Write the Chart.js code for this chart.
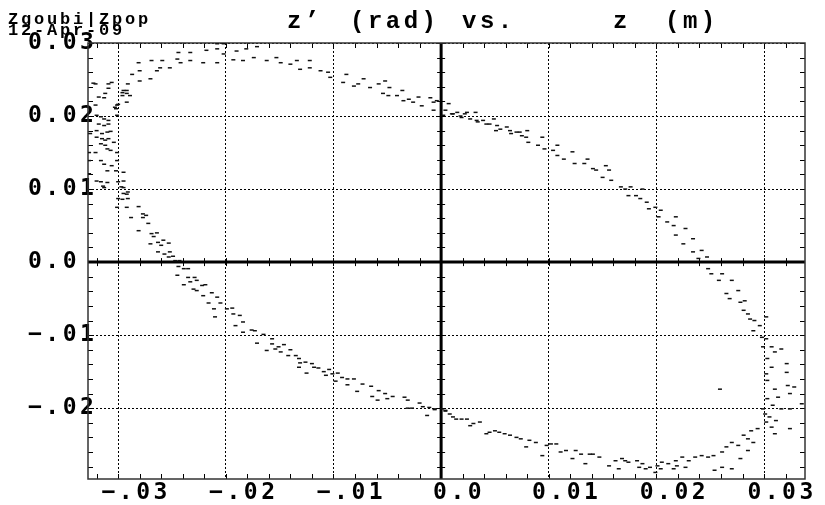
<!DOCTYPE html>
<html>
<head>
<meta charset="utf-8">
<script src="https://cdn.jsdelivr.net/npm/chart.js@4.4.1/dist/chart.umd.min.js"></script>
<style>
  html, body { margin: 0; padding: 0; background: #fff; }
</style>
</head>
<body>
<canvas id="zpop" width="825" height="505"></canvas>
<script>
// z (m) and z' (rad), arc by arc
var upperZ = [-0.0321,-0.0306,-0.0313,-0.0303,-0.0300,-0.0296,-0.0292,-0.0291,-0.0280,-0.0270,
  -0.0287,-0.0280,-0.0264,-0.0261,-0.0252,-0.0281,-0.0269,-0.0259,-0.0245,-0.0242,
  -0.0233,-0.0221,-0.0208,-0.0244,-0.0233,-0.0218,-0.0208,-0.0202,-0.0208,-0.0202,
  -0.0190,-0.0181,-0.0171,-0.0193,-0.0184,-0.0174,-0.0162,-0.0153,-0.0149,-0.0140,
  -0.0134,-0.0131,-0.0122,-0.0112,-0.0105,-0.0103,-0.0122,-0.0088,-0.0091,-0.0081,
  -0.0072,-0.0066,-0.0077,-0.0058,-0.0052,-0.0048,-0.0054,-0.0049,-0.0041,-0.0036,
  -0.0035,-0.0030,-0.0026,-0.0021,-0.0018,-0.0010,-0.0007,-0.0004,-0.0007];
var upperZp = [0.0244,0.0246,0.0225,0.0212,0.0216,0.0232,0.0235,0.0244,0.0248,0.0251,
  0.0257,0.0262,0.0262,0.0266,0.0266,0.0273,0.0276,0.0276,0.0278,0.0273,
  0.0276,0.0273,0.0273,0.0287,0.0287,0.0290,0.0292,0.0299,0.0299,0.0285,
  0.0289,0.0292,0.0295,0.0277,0.0276,0.0280,0.0276,0.0280,0.0273,0.0271,
  0.0276,0.0264,0.0266,0.0262,0.0260,0.0253,0.0276,0.0257,0.0246,0.0241,
  0.0251,0.0239,0.0244,0.0244,0.0248,0.0239,0.0231,0.0228,0.0228,0.0235,
  0.0221,0.0223,0.0219,0.0226,0.0214,0.0225,0.0219,0.0221,0.0208];

var fallZ = [0.0007,0.0004,0.0002,0.0011,0.0015,0.0019,0.0024,0.0027,0.0032,0.0033,
  0.0039,0.0042,0.0049,0.0052,0.0055,0.0064,0.0070,0.0075,0.0080,0.0010,
  0.0018,0.0022,0.0034,0.0045,0.0051,0.0061,0.0065,0.0073,0.0079,0.0081,
  0.0090,0.0094,0.0096,0.0104,0.0108,0.0108,0.0114,0.0122,0.0124,0.0133,
  0.0136,0.0141,0.0144,0.0150,0.0153,0.0156,0.0158,0.0167,0.0171,0.0176,
  0.0174,0.0181,0.0185,0.0187,0.0191,0.0193,0.0199,0.0204,0.0202,0.0210,
  0.0216,0.0218,0.0218,0.0227,0.0225,0.0234,0.0234,0.0242,0.0239,0.0247];
var fallZp = [0.0217,0.0208,0.0201,0.0203,0.0205,0.0198,0.0205,0.0196,0.0205,0.0194,
  0.0194,0.0189,0.0196,0.0187,0.0182,0.0180,0.0178,0.0173,0.0180,0.0203,
  0.0200,0.0203,0.0192,0.0189,0.0180,0.0185,0.0176,0.0178,0.0171,0.0164,
  0.0160,0.0171,0.0155,0.0153,0.0160,0.0146,0.0141,0.0151,0.0135,0.0135,
  0.0141,0.0128,0.0126,0.0116,0.0132,0.0126,0.0112,0.0103,0.0100,0.0103,
  0.0091,0.0091,0.0087,0.0100,0.0082,0.0073,0.0075,0.0071,0.0062,0.0055,
  0.0050,0.0062,0.0037,0.0046,0.0025,0.0032,0.0014,0.0016,0.0005,0.0007];

var rightZ = [0.0248,0.0251,0.0261,0.0258,0.0265,0.0270,0.0268,0.0276,0.0278,0.0282,
  0.0281,0.0285,0.0287,0.0291,0.0296,0.0302,0.0290,0.0298,0.0302,0.0299,
  0.0307,0.0310,0.0316,0.0303,0.0307,0.0321,0.0302,0.0321,0.0303,0.0322,
  0.0328,0.0310,0.0324,0.0303,0.0313,0.0308,0.0316,0.0324,0.0335,0.0299,
  0.0301,0.0305,0.0311,0.0302,0.0324,0.0307,0.0310,0.0294,0.0288,0.0281,
  0.0285,0.0290,0.0270,0.0276,0.0265,0.0285,0.0261,0.0278,0.0253,0.0248,
  0.0270,0.0261,0.0254,0.0259];
var rightZp = [-0.0009,-0.0016,-0.0016,-0.0025,-0.0043,-0.0025,-0.0050,-0.0039,-0.0055,-0.0053,
  -0.0066,-0.0071,-0.0078,-0.0080,-0.0087,-0.0075,-0.0094,-0.0103,-0.0105,-0.0116,
  -0.0116,-0.0123,-0.0119,-0.0132,-0.0144,-0.0139,-0.0153,-0.0151,-0.0162,-0.0169,
  -0.0171,-0.0174,-0.0180,-0.0187,-0.0185,-0.0196,-0.0201,-0.0201,-0.0194,-0.0201,
  -0.0208,-0.0212,-0.0217,-0.0219,-0.0228,-0.0226,-0.0235,-0.0228,-0.0231,-0.0237,
  -0.0242,-0.0247,-0.0247,-0.0251,-0.0253,-0.0258,-0.0260,-0.0269,-0.0265,-0.0267,
  -0.0283,-0.0281,-0.0285,-0.0174];

var bottomZ = [0.0242,0.0236,0.0230,0.0227,0.0224,0.0218,0.0219,0.0216,0.0211,0.0205,
  0.0204,0.0201,0.0199,0.0194,0.0190,0.0187,0.0184,0.0182,0.0174,0.0171,
  0.0168,0.0162,0.0165,0.0156,0.0147,0.0141,0.0134,0.0138,0.0130,0.0125,
  0.0122,0.0116,0.0111,0.0107,0.0102,0.0098,0.0094,0.0088,0.0082,0.0079,
  0.0074,0.0070,0.0064,0.0059,0.0054,0.0050,0.0045,0.0042,0.0036,0.0030,
  0.0027,0.0024,0.0019,0.0014,0.0011,0.0008,0.0004,0.0001,-0.0006,0.0004];
var bottomZp = [-0.0265,-0.0267,-0.0272,-0.0281,-0.0267,-0.0272,-0.0279,-0.0283,-0.0276,-0.0274,
  -0.0283,-0.0279,-0.0288,-0.0281,-0.0283,-0.0276,-0.0281,-0.0272,-0.0274,-0.0272,
  -0.0269,-0.0272,-0.0283,-0.0279,-0.0267,-0.0263,-0.0276,-0.0263,-0.0263,-0.0258,
  -0.0269,-0.0258,-0.0260,-0.0249,-0.0249,-0.0251,-0.0265,-0.0247,-0.0244,-0.0253,
  -0.0242,-0.0240,-0.0237,-0.0235,-0.0233,-0.0231,-0.0233,-0.0235,-0.0219,-0.0221,
  -0.0224,-0.0215,-0.0215,-0.0215,-0.0212,-0.0208,-0.0203,-0.0201,-0.0201,-0.0204];

var riseZ = [-0.0006,-0.0013,-0.0011,-0.0017,-0.0020,-0.0027,-0.0031,-0.0031,-0.0034,-0.0045,
  -0.0050,-0.0052,-0.0059,-0.0058,-0.0064,-0.0065,-0.0073,-0.0078,-0.0081,-0.0087,
  -0.0087,-0.0092,-0.0096,-0.0098,-0.0101,-0.0104,-0.0107,-0.0109,-0.0114,-0.0118,
  -0.0120,-0.0125,-0.0126,-0.0132,-0.0131,-0.0132,-0.0135,-0.0140,-0.0142,-0.0149,
  -0.0146,-0.0151,-0.0154,-0.0162,-0.0157,-0.0157,-0.0165,-0.0171,-0.0173,-0.0176,
  -0.0184,-0.0184,-0.0191,-0.0187,-0.0193,-0.0194,-0.0199,-0.0210,-0.0211,-0.0205,
  -0.0216,-0.0208,-0.0213,-0.0221,-0.0227,-0.0230,-0.0219,-0.0222,-0.0227,-0.0233,
  -0.0239,-0.0229,-0.0235,-0.0245,-0.0235,-0.0239,-0.0244,-0.0243,-0.0247,-0.0253,
  -0.0249,-0.0252,-0.0257,-0.0263,-0.0253,-0.0260,-0.0258,-0.0263,-0.0270,-0.0267,
  -0.0264,-0.0269,-0.0281,-0.0272,-0.0277,-0.0274,-0.0277,-0.0281,-0.0288,-0.0292,
  -0.0300,-0.0291,-0.0291,-0.0295,-0.0297,-0.0300,-0.0314,-0.0316];
var riseZp = [-0.0202,-0.0210,-0.0199,-0.0198,-0.0193,-0.0200,-0.0200,-0.0189,-0.0185,-0.0184,
  -0.0187,-0.0180,-0.0189,-0.0176,-0.0184,-0.0170,-0.0167,-0.0177,-0.0160,-0.0168,
  -0.0160,-0.0158,-0.0152,-0.0163,-0.0153,-0.0147,-0.0155,-0.0150,-0.0145,-0.0144,
  -0.0139,-0.0152,-0.0137,-0.0144,-0.0138,-0.0132,-0.0128,-0.0120,-0.0128,-0.0123,
  -0.0113,-0.0116,-0.0119,-0.0121,-0.0112,-0.0105,-0.0099,-0.0111,-0.0094,-0.0093,
  -0.0096,-0.0082,-0.0087,-0.0073,-0.0071,-0.0063,-0.0064,-0.0075,-0.0064,-0.0056,
  -0.0056,-0.0048,-0.0042,-0.0046,-0.0039,-0.0037,-0.0031,-0.0032,-0.0025,-0.0027,
  -0.0031,-0.0021,-0.0021,-0.0018,-0.0009,-0.0009,-0.0006,0.0002,0.0002,0.0007,
  0.0008,0.0014,0.0011,0.0014,0.0026,0.0023,0.0030,0.0027,0.0025,0.0035,
  0.0040,0.0039,0.0043,0.0053,0.0061,0.0064,0.0066,0.0076,0.0061,0.0075,
  0.0087,0.0087,0.0096,0.0094,0.0103,0.0110,0.0104,0.0110];

var leftZ = [-0.0323,-0.0309,-0.0309,-0.0312,-0.0318,-0.0321,-0.0301,-0.0302,-0.0296,-0.0292,
  -0.0295,-0.0289,-0.0292,-0.0316,-0.0313,-0.0309,-0.0318,-0.0313,-0.0309,-0.0320,
  -0.0315,-0.0310,-0.0307,-0.0320,-0.0315,-0.0312,-0.0309,-0.0304,-0.0316,-0.0312,
  -0.0310,-0.0307,-0.0327,-0.0321,-0.0301,-0.0316,-0.0313,-0.0306,-0.0301,-0.0327,
  -0.0310,-0.0302,-0.0295,-0.0327,-0.0310,-0.0295,-0.0313,-0.0295,-0.0292,-0.0296,
  -0.0301,-0.0320,-0.0326,-0.0320,-0.0301];
var leftZp = [0.0245,0.0244,0.0238,0.0231,0.0226,0.0215,0.0215,0.0210,0.0228,0.0231,
  0.0235,0.0228,0.0219,0.0199,0.0196,0.0194,0.0189,0.0187,0.0189,0.0180,
  0.0176,0.0178,0.0179,0.0171,0.0169,0.0167,0.0169,0.0164,0.0162,0.0160,
  0.0155,0.0153,0.0150,0.0150,0.0150,0.0139,0.0134,0.0132,0.0139,0.0139,
  0.0125,0.0125,0.0123,0.0121,0.0109,0.0111,0.0102,0.0102,0.0093,0.0086,
  0.0075,0.0111,0.0176,0.0201,0.0201];

var xTickValues = [-0.03, -0.02, -0.01, 0, 0.01, 0.02, 0.03];
var xTickLabels = ['\u2212.03', '\u2212.02', '\u2212.01', '0.0', '0.01', '0.02', '0.03'];
var yTickValues = [-0.02, -0.01, 0, 0.01, 0.02, 0.03];
var yTickLabels = ['\u2212.02', '\u2212.01', '0.0', '0.01', '0.02', '0.03'];
var titleParts = ['z\u2019', '(rad)', 'vs.', 'z', '(m)'];
var stampLines = ['Zgoubi|Zpop', '12-Apr-09'];

var zAll = upperZ.concat(fallZ, rightZ, bottomZ, riseZ, leftZ);
var zpAll = upperZp.concat(fallZp, rightZp, bottomZp, riseZp, leftZp);
var points = zAll.map(function (z, i) { return { x: z, y: zpAll[i] }; });

function labelFor(values, labels) {
  return function (v) {
    for (var i = 0; i < values.length; i++) {
      if (Math.abs(values[i] - v) < 1e-9) return labels[i];
    }
    return '';
  };
}

var tickFont = { family: '"DejaVu Sans Mono"', weight: 'bold', size: 23 };

// frame, heavy zero axes and little inward ticks every 0.002
var framePlugin = {
  id: 'frame',
  beforeDraw: function (chart) {
    chart.ctx.letterSpacing = '3.5px';
  },
  beforeDatasetsDraw: function (chart) {
    var ctx = chart.ctx, a = chart.chartArea;
    var xs = chart.scales.x, ys = chart.scales.y;
    var x0 = xs.getPixelForValue(0), y0 = ys.getPixelForValue(0);
    ctx.save();
    ctx.strokeStyle = '#000';
    ctx.lineWidth = 1;
    ctx.beginPath();
    for (var i = -16; i <= 17; i++) {
      var v = i * 0.002;
      if (v < xs.min || v > xs.max) continue;
      var px = Math.round(xs.getPixelForValue(v)) + 0.5;
      ctx.moveTo(px, a.bottom); ctx.lineTo(px, a.bottom - 5);
      ctx.moveTo(px, a.top); ctx.lineTo(px, a.top + 5);
      ctx.moveTo(px, y0 - 4); ctx.lineTo(px, y0 + 4);
    }
    for (var j = -15; j <= 15; j++) {
      var w = j * 0.002;
      if (w < ys.min || w > ys.max) continue;
      var py = Math.round(ys.getPixelForValue(w)) + 0.5;
      ctx.moveTo(a.left, py); ctx.lineTo(a.left + 5, py);
      ctx.moveTo(a.right, py); ctx.lineTo(a.right - 5, py);
      ctx.moveTo(x0 - 4, py); ctx.lineTo(x0 + 4, py);
    }
    ctx.stroke();
    ctx.lineWidth = 3;
    ctx.beginPath();
    ctx.moveTo(x0, a.top); ctx.lineTo(x0, a.bottom);
    ctx.moveTo(a.left, y0); ctx.lineTo(a.right, y0);
    ctx.stroke();
    ctx.lineWidth = 1.5;
    ctx.strokeStyle = '#333';
    ctx.strokeRect(a.left, a.top, a.right - a.left, a.bottom - a.top);
    ctx.restore();
  },
  afterDraw: function (chart) {
    var ctx = chart.ctx;
    var titleX = [287, 350, 462, 613, 665];
    ctx.save();
    ctx.fillStyle = '#000';
    ctx.textAlign = 'left';
    ctx.textBaseline = 'alphabetic';
    ctx.font = 'bold 24px "Liberation Mono"';
    ctx.letterSpacing = '3.5px';
    titleParts.forEach(function (t, i) { ctx.fillText(t, titleX[i], 28); });
    ctx.font = 'bold 17px "Liberation Mono"';
    ctx.letterSpacing = '2.8px';
    ctx.fillText(stampLines[0], 8, 24);
    ctx.fillText(stampLines[1], 8, 35);
    ctx.restore();
  }
};

new Chart(document.getElementById('zpop').getContext('2d'), {
  type: 'scatter',
  data: {
    datasets: [{
      data: points,
      pointStyle: 'line',
      pointRadius: 2,
      pointBorderWidth: 1.5,
      borderColor: '#111',
      backgroundColor: '#111'
    }]
  },
  options: {
    responsive: false,
    animation: false,
    devicePixelRatio: 1,
    layout: { padding: { top: 43, right: 20, left: 0, bottom: 0 } },
    plugins: {
      legend: { display: false },
      tooltip: { enabled: false },
      title: { display: false }
    },
    scales: {
      x: {
        type: 'linear',
        min: -0.0328,
        max: 0.0338,
        afterFit: function (s) { s.height = 26; },
        afterBuildTicks: function (s) { s.ticks = xTickValues.map(function (v) { return { value: v }; }); },
        ticks: {
          callback: labelFor(xTickValues, xTickLabels),
          font: tickFont,
          color: '#000',
          padding: 0,
          labelOffset: 18,
          maxRotation: 0,
          autoSkip: false
        },
        grid: { color: '#000', lineWidth: 1, drawTicks: false },
        border: { display: false, dash: [2, 2] }
      },
      y: {
        type: 'linear',
        min: -0.0297,
        max: 0.03,
        afterFit: function (s) { s.width = 88; },
        afterBuildTicks: function (s) { s.ticks = yTickValues.map(function (v) { return { value: v }; }); },
        ticks: {
          callback: labelFor(yTickValues, yTickLabels),
          font: tickFont,
          color: '#000',
          mirror: true,
          crossAlign: 'near',
          padding: -60,
          autoSkip: false
        },
        grid: { color: '#000', lineWidth: 1, drawTicks: false },
        border: { display: false, dash: [2, 2] }
      }
    }
  },
  plugins: [framePlugin]
});
</script>
</body>
</html>
